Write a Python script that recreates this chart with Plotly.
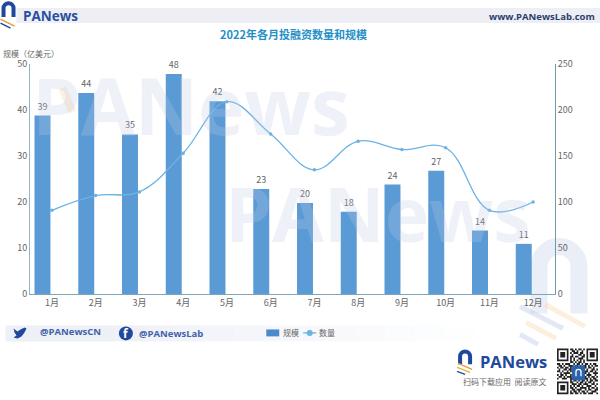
import plotly.graph_objects as go

months = ['1月', '2月', '3月', '4月', '5月', '6月', '7月', '8月', '9月', '10月', '11月', '12月']
scale = [38.8, 43.7, 34.7, 47.8, 41.9, 22.8, 19.8, 17.9, 23.8, 26.8, 13.8, 10.9]
count = [91, 107, 111, 153, 209, 174, 135, 166, 157, 159, 91, 100]
left_ticks = [0, 10, 20, 30, 40, 50]
right_ticks = [0, 50, 100, 150, 200, 250]

# QR block pattern, only a decoration in the corner
qr_rows = [
    '1111111011010110101111111',
    '1000001001101001001000001',
    '1011101010111011001011101',
    '1011101001000110101011101',
    '1011101011011001101011101',
    '1000001010100111001000001',
    '1111111010101010101111111',
    '0000000011010110100000000',
    '1101011100101101011010110',
    '0110100111011010110101011',
    '1011011010000000110110100',
    '0100110110000000101001101',
    '1101001010000000011011010',
    '0010111100000000110100111',
    '1011010010000000101110010',
    '0110101110000000010101101',
    '1001110011011010111010110',
    '0000000010110101101011011',
    '1111111011001011010110100',
    '1000001001110110111001101',
    '1011101010101101001110010',
    '1011101011010011110101101',
    '1011101001101110010110011',
    '1000001010110101101001110',
    '1111111011011010110111001',
]

W, H = 600, 400
L, R, T, B = 29.5, 45, 64, 105.5
NAVY = '#1f4a9c'
BAR = '#5b9bd5'
LINE = '#6cb2e4'
FONT = 'Noto Sans CJK SC'


def px(x):
    return (x - L) / (W - L - R)


def py(y):
    return (H - B - y) / (H - T - B)


def rect(x0, y0, x1, y1, color, layer='below'):
    return dict(type='rect', xref='paper', yref='paper', x0=px(x0), x1=px(x1), y0=py(y0), y1=py(y1),
                fillcolor=color, line=dict(width=0), layer=layer)


def stripe(x0, y0, x1, y1, color, width, layer='below'):
    return dict(type='line', xref='paper', yref='paper', x0=px(x0), x1=px(x1), y0=py(y0), y1=py(y1),
                line=dict(color=color, width=width), layer=layer)


def arch(x0, x1, top, bottom, color, width, layer='below'):
    r = (x1 - x0) / 2
    k = r * 0.55
    mid = (x0 + x1) / 2
    p = f'M {px(x0)} {py(bottom)} L {px(x0)} {py(top + r)} '
    p += f'C {px(x0)} {py(top + r - k)} {px(mid - k)} {py(top)} {px(mid)} {py(top)} '
    p += f'C {px(mid + k)} {py(top)} {px(x1)} {py(top + r - k)} {px(x1)} {py(top + r)} '
    p += f'L {px(x1)} {py(bottom)}'
    return dict(type='path', xref='paper', yref='paper', path=p, line=dict(color=color, width=width), layer=layer)


def label(x, y, text, size, color, bold=False, anchor='left', family=FONT):
    if bold:
        text = f'<b>{text}</b>'
    return dict(xref='paper', yref='paper', x=px(x), y=py(y), text=text, showarrow=False, xanchor=anchor,
                yanchor='middle', font=dict(size=size, color=color, family=family))


shapes = []
# bands
shapes.append(rect(16, 8, 600, 23, '#eeeef5'))
shapes.append(rect(5, 326, 115, 342, '#eef0f7'))
for i in range(12):
    a = 0.9 - i * 0.075
    shapes.append(rect(115 + i * 30, 326, 145 + i * 30, 342, f'rgba(238,240,247,{a:.3f})'))

# faded logo at the lower right
shapes.append(arch(539, 579, 247, 314, 'rgba(205,215,235,0.42)', 17))
shapes.append(stripe(545, 305, 585, 327, 'rgba(250,215,170,0.4)', 5))
shapes.append(stripe(520, 307, 563, 329, 'rgba(190,205,235,0.45)', 5))
shapes.append(stripe(526, 323, 556, 339, 'rgba(250,215,170,0.4)', 5))
shapes.append(stripe(520, 335, 538, 345, 'rgba(190,205,235,0.45)', 5))

# orange touch in the watermarks
shapes.append(stripe(62, 88, 72, 112, 'rgba(250,205,150,0.3)', 8))
shapes.append(stripe(255, 196, 262, 214, 'rgba(250,205,150,0.3)', 7))

# top logo
shapes.append(arch(3, 13, 3, 17, NAVY, 4, 'above'))
shapes.append(stripe(0, 19, 14, 26, '#e89a3c', 1.5, 'above'))
shapes.append(stripe(0, 23, 10, 28, NAVY, 1.5, 'above'))

# bottom logo
shapes.append(arch(460, 470, 352, 365, NAVY, 4, 'above'))
shapes.append(stripe(458, 364, 472, 370, '#e89a3c', 1.3, 'above'))
shapes.append(stripe(457, 368, 470, 373, '#e8b03c', 1.3, 'above'))
shapes.append(stripe(457, 372, 465, 375, NAVY, 1.3, 'above'))

# social icons
shapes.append(dict(type='circle', xref='paper', yref='paper', x0=px(118.5), x1=px(132.5), y0=py(341), y1=py(327),
                   fillcolor=NAVY, line=dict(width=0), layer='above'))
bird = [(13, 329), (17, 332), (20, 330), (24, 328), (26, 329), (24, 333), (21, 337), (17, 339), (13, 338), (16, 336), (14, 333)]
bird_path = 'M ' + ' L '.join(f'{px(x)} {py(y)}' for x, y in bird) + ' Z'
shapes.append(dict(type='path', xref='paper', yref='paper', path=bird_path, fillcolor=NAVY, line=dict(width=0), layer='above'))

# legend keys
shapes.append(rect(266, 330, 279, 337, '#4a8bcb', 'above'))
shapes.append(stripe(303, 333.5, 316, 333.5, LINE, 1.3, 'above'))
shapes.append(dict(type='circle', xref='paper', yref='paper', x0=px(306.5), x1=px(312.5), y0=py(336.5), y1=py(330.5),
                   fillcolor=LINE, line=dict(width=0), layer='above'))

# QR blocks
cell_w = 41 / len(qr_rows[0])
cell_h = 46 / len(qr_rows)
qr_path = ''
for r, row in enumerate(qr_rows):
    for c, v in enumerate(row):
        if v == '1':
            x0 = 557 + c * cell_w
            y0 = 349 + r * cell_h
            qr_path += (f'M {px(x0)} {py(y0)} L {px(x0 + cell_w)} {py(y0)} L {px(x0 + cell_w)} {py(y0 + cell_h)} '
                        f'L {px(x0)} {py(y0 + cell_h)} Z ')
shapes.append(dict(type='path', xref='paper', yref='paper', path=qr_path, fillcolor='#222222', line=dict(width=0), layer='above'))
shapes.append(rect(572, 366, 585, 381, '#2a62ad', 'above'))
shapes.append(arch(576, 581, 370, 377, 'white', 1.3, 'above'))

annotations = [
    label(293, 34, '2022年各月投融资数量和规模', 11, '#2390c8', bold=True, anchor='center'),
    label(0, 53, '规模（亿美元）', 8, '#666666'),
    label(20, 15.5, 'PANews', 13.5, '#2b4f9e', bold=True, family='Open Sans'),
    label(597, 16, 'www.PANewsLab.com', 9.5, '#2c3e6d', bold=True, anchor='right', family='Open Sans'),
    label(38, 332, '@PANewsCN', 9.5, '#3f62a8', bold=True, family='Open Sans'),
    label(137, 334, '@PANewsLab', 9.5, '#3f62a8', bold=True, family='Open Sans'),
    label(125.7, 334.5, 'f', 12, 'white', bold=True, anchor='center', family='Open Sans'),
    label(478, 362, 'PANews', 16.5, '#1f4a9c', bold=True, family='Open Sans'),
    label(461, 382, '扫码下载应用  阅读原文', 8, '#666666'),
    label(281, 333.5, '规模', 8, '#666666'),
    label(317, 333.5, '数量', 8, '#666666'),
    # watermarks
    label(30, 105, 'PANews', 78, 'rgba(190,200,228,0.26)', bold=True, family='Open Sans'),
    label(223, 213, 'PANews', 75, 'rgba(190,200,228,0.26)', bold=True, family='Open Sans'),
]

fig = go.Figure()
fig.add_trace(go.Bar(
    x=months, y=scale, name='规模', marker=dict(color=BAR, line=dict(width=0)),
    width=0.365, offset=-0.397,
    texttemplate='%{y:.0f}', textposition='outside', cliponaxis=False,
    textfont=dict(size=9, color='#666666'),
))
fig.add_trace(go.Scatter(
    x=months, y=count, name='数量', yaxis='y2', mode='lines+markers',
    line=dict(color=LINE, width=1.3, shape='spline', smoothing=1.1),
    marker=dict(size=3.5, color=LINE),
))

fig.update_layout(
    width=W, height=H, autosize=False,
    margin=dict(l=L, r=R, t=T, b=B, pad=0),
    paper_bgcolor='white', plot_bgcolor='rgba(0,0,0,0)',
    font=dict(family=FONT, size=9, color='#666666'),
    showlegend=False,
    xaxis=dict(type='category', categoryorder='array', categoryarray=months, range=[-0.5, 11.5],
               showgrid=False, showline=True, linecolor='#7ea6b8', linewidth=1, ticks='',
               tickfont=dict(size=9, color='#666666'), zeroline=False),
    yaxis=dict(range=[0, 50], tickvals=left_ticks, showgrid=False, showline=True, linecolor='#8fb5cf',
               linewidth=1, ticks='', tickfont=dict(size=9, color='#666666'), zeroline=False),
    yaxis2=dict(range=[0, 250], tickvals=right_ticks, overlaying='y', side='right', showgrid=False,
                showline=True, linecolor='#6f9ba8', linewidth=1, ticks='',
                tickfont=dict(size=9, color='#666666'), zeroline=False),
    shapes=shapes,
    annotations=annotations,
)

fig.write_html("out.html", config=dict(displayModeBar=False),
               post_script="document.body.style.margin='0';document.body.style.overflow='hidden';")
